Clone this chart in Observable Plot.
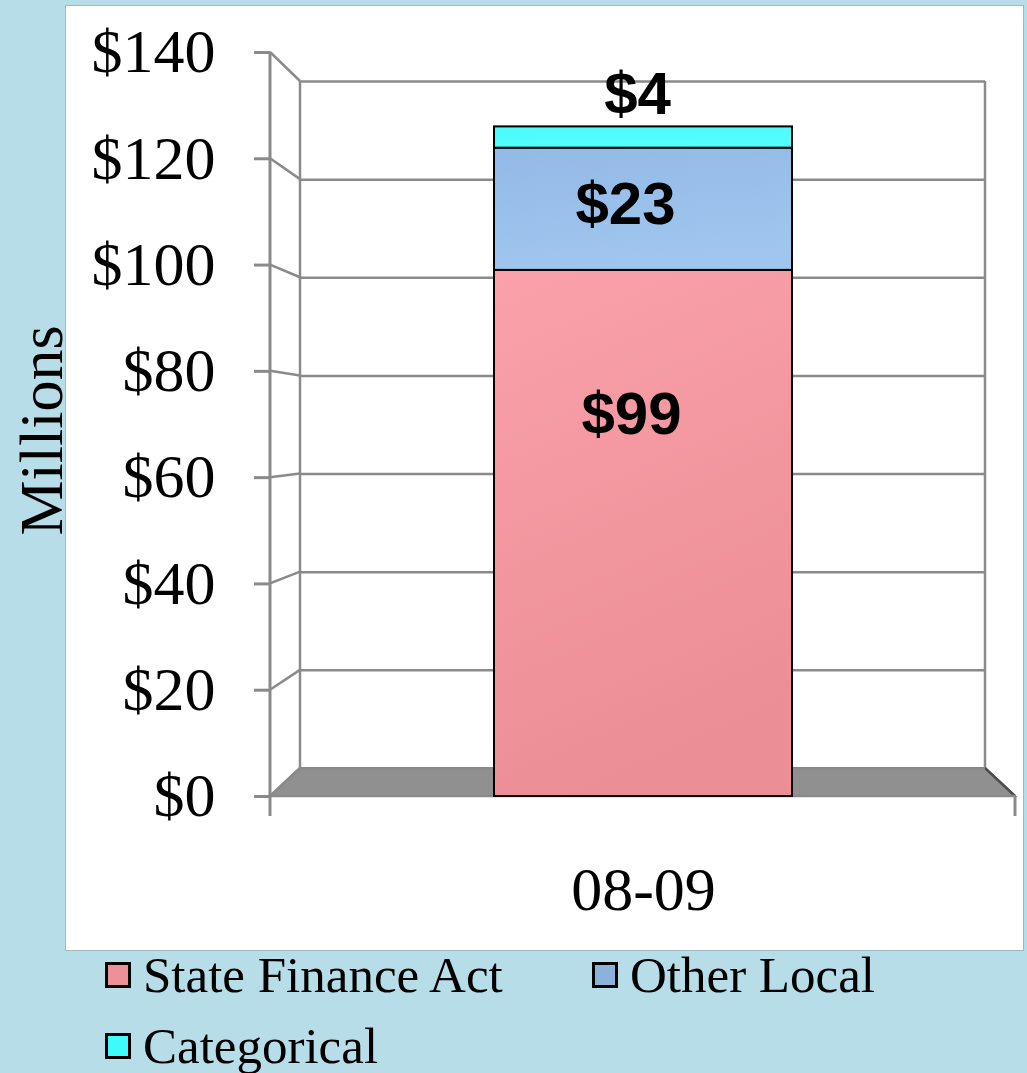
<!DOCTYPE html>
<html>
<head>
<meta charset="utf-8">
<script src="https://cdn.jsdelivr.net/npm/d3@7"></script>
<script src="https://cdn.jsdelivr.net/npm/@observablehq/plot@0.6"></script>
<style>
  html, body { margin: 0; padding: 0; background: #b7dde8; }
  #wrap { position: relative; width: 1027px; height: 1073px; overflow: hidden; }
  #panel { position: absolute; left: 65px; top: 5px; width: 957px; height: 944px; background: #ffffff; border: 1px solid #9ab9c3; }
  #chart { position: absolute; left: 0; top: 0; }
  .item { position: absolute; display: flex; align-items: center; height: 60px; line-height: 60px;
          font-family: "Liberation Serif", "Times New Roman", serif; font-size: 51px; color: #000; white-space: nowrap; }
  .sw { width: 26px; height: 26px; box-sizing: border-box; border: 3px solid #000; margin-right: 12px; }
</style>
</head>
<body>
<div id="wrap">
  <div id="panel"></div>
  <div id="chart"></div>
  <div id="legend"></div>
</div>
<script>
// ---- data ----
const periods = ["08-09"];
const seriesNames = ["State Finance Act", "Other Local", "Categorical"];
const seriesValues = [99, 23, 4];
const valueLabels = ["$99", "$23", "$4"];
const yTicks = [0, 20, 40, 60, 80, 100, 120, 140];
const yTickLabels = ["$0", "$20", "$40", "$60", "$80", "$100", "$120", "$140"];
const yAxisTitle = "Millions";

// ---- styles ----
const gradientIds = ["gPink", "gBlue", "gCyan"];
const gradientStops = [["#faa1a9", "#ec8e96"], ["#92bae6", "#9ec6ee"], ["#4dfbfb", "#52fdfd"]];
const legendColors = ["#ee9098", "#8db2da", "#3ffafa"];
const labelDx = [-12, -18, -6];
const labelDy = [-119, -4, -43];
const depthPx = 30;          // horizontal depth of the 3D back wall
const depthScale = 0.9234;   // back wall vertical scale relative to front
const floorLift = 5.27;      // back wall baseline, in value units of the front scale
const lineColor = "#8a8a8a";

const cum = d3.cumsum(seriesValues);
const data = seriesNames.map((s, i) => ({
  period: periods[0], series: s, value: seriesValues[i], label: valueLabels[i],
  mid: cum[i] - seriesValues[i] / 2
}));
const backValue = v => floorLift + depthScale * v;

function scaffold(index, scales, values, dims) {
  const {x, y} = scales;
  const xl = dims.marginLeft, xr = dims.width - dims.marginRight;
  const yb = v => y(backValue(v));
  const g = d3.create("svg:g");
  const defs = g.append("defs");
  gradientIds.forEach((id, i) => {
    const lg = defs.append("linearGradient").attr("id", id)
      .attr("x1", 0).attr("y1", 0).attr("x2", 0.25).attr("y2", 1);
    lg.append("stop").attr("offset", "0%").attr("stop-color", gradientStops[i][0]);
    lg.append("stop").attr("offset", "100%").attr("stop-color", gradientStops[i][1]);
  });
  // floor
  g.append("polygon")
    .attr("points", [[xl, y(0)], [xl + depthPx, yb(0)], [xr - depthPx, yb(0)], [xr, y(0)]].map(p => p.join(",")).join(" "))
    .attr("fill", "#909090").attr("stroke", "#7d7d7d").attr("stroke-width", 2);
  // back wall verticals
  for (const xx of [xl + depthPx, xr - depthPx]) {
    g.append("line").attr("x1", xx).attr("x2", xx).attr("y1", yb(0)).attr("y2", yb(yTicks[yTicks.length - 1]))
      .attr("stroke", lineColor).attr("stroke-width", 2.5);
  }
  // connectors from front axis to back wall
  for (const v of yTicks) {
    g.append("line").attr("x1", xl).attr("y1", y(v)).attr("x2", xl + depthPx).attr("y2", yb(v))
      .attr("stroke", lineColor).attr("stroke-width", 2.5);
  }
  // right floor edge
  g.append("line").attr("x1", xr - depthPx).attr("y1", yb(0)).attr("x2", xr).attr("y2", y(0))
    .attr("stroke", "#4d4d4d").attr("stroke-width", 2.5);
  // front axis line and bottom ticks
  g.append("line").attr("x1", xl).attr("x2", xl).attr("y1", y(yTicks[yTicks.length - 1])).attr("y2", y(0) + 20)
    .attr("stroke", lineColor).attr("stroke-width", 3);
  g.append("line").attr("x1", xr).attr("x2", xr).attr("y1", y(0)).attr("y2", y(0) + 20)
    .attr("stroke", lineColor).attr("stroke-width", 3);
  g.append("line").attr("x1", xl).attr("x2", xr).attr("y1", y(0)).attr("y2", y(0))
    .attr("stroke", lineColor).attr("stroke-width", 2.5);
  return g.node();
}

const marks = [
  scaffold,
  Plot.ruleY(yTicks, {y: backValue, insetLeft: depthPx, insetRight: depthPx, stroke: lineColor, strokeWidth: 2.5}),
  Plot.barY(data, {x: "period", y: "value", fill: "series", stroke: "#000", strokeWidth: 2}),
  Plot.axisY({ticks: yTicks, tickFormat: d => yTickLabels[yTicks.indexOf(d)], tickSize: 16, tickPadding: 39,
    stroke: lineColor, strokeWidth: 3, fill: "#000", fontSize: 62, fontFamily: "Liberation Serif"}),
  Plot.axisX({tickSize: 0, tickPadding: 69, fill: "#000", fontSize: 62, fontFamily: "Liberation Serif"}),
  Plot.text([yAxisTitle], {frameAnchor: "left", textAnchor: "middle", rotate: -90, dx: -228, dy: 6, fontSize: 62,
    fontFamily: "Liberation Serif", fill: "#000"}),
  ...data.map((d, i) => Plot.text([d], {x: "period", y: "mid", text: "label", dx: labelDx[i], dy: labelDy[i],
    fontSize: 60, fontWeight: "bold", fontFamily: "Liberation Sans", fill: "#000"}))
];

const chart = Plot.plot({
  width: 1027,
  height: 950,
  marginLeft: 270,
  marginRight: 12,
  marginTop: 52,
  marginBottom: 154,
  style: {background: "transparent", fontFamily: "Liberation Serif", color: "#000", overflow: "visible"},
  x: {domain: periods, padding: 0.4286, label: null},
  y: {domain: [0, 140], nice: false, label: null},
  color: {domain: seriesNames, range: gradientIds.map(id => `url(#${id})`)},
  marks
});
document.getElementById("chart").appendChild(chart);

// legend
const legendPos = [[105, 945], [592, 945], [105, 1016]];
const legend = document.getElementById("legend");
seriesNames.forEach((s, i) => {
  const item = document.createElement("div");
  item.className = "item";
  item.style.left = legendPos[i][0] + "px";
  item.style.top = legendPos[i][1] + "px";
  const sw = document.createElement("span");
  sw.className = "sw";
  sw.style.background = legendColors[i];
  const tx = document.createElement("span");
  tx.textContent = s;
  item.appendChild(sw);
  item.appendChild(tx);
  legend.appendChild(item);
});
</script>
</body>
</html>
